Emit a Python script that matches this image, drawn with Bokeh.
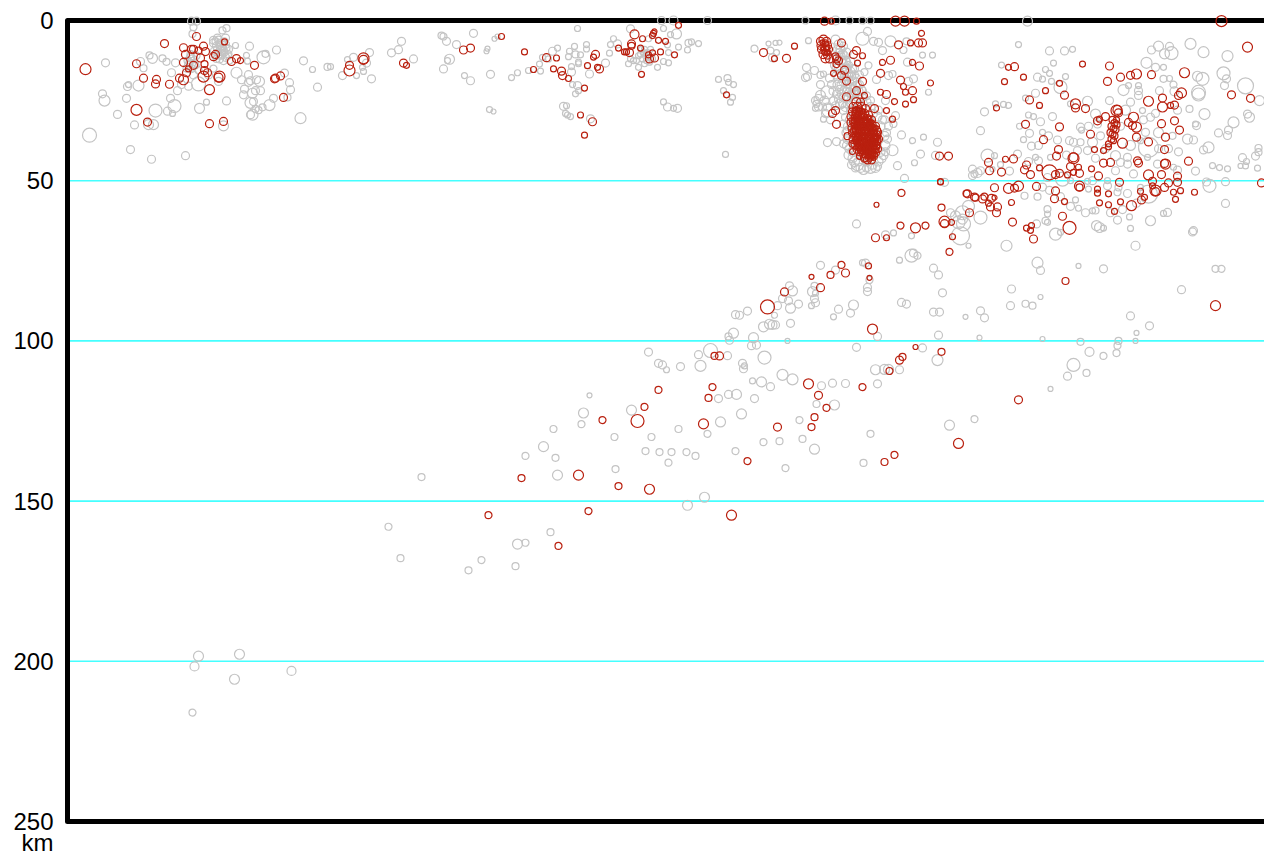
from bokeh.plotting import figure
from bokeh.models import ColumnDataSource, Range1d, FixedTicker
from bokeh.embed import file_html
from bokeh.resources import INLINE

depth_ticks = [0, 50, 100, 150, 200, 250]
guide_depths = [50, 100, 150, 200]
depth_unit = "km"
unit_tick = 257

# (distance along profile, depth km, magnitude class)
gray_west = [(105,13.2,8),(89,35.8,14),(102,22.9,8),(104,25,11),(126,24.3,8),(127,20.6,8),(128,20,6),(138,20.3,11),(143,14.9,7),(140,12.8,8),(149,10.9,7),(152,11.8,10),(162,11.8,7),(166,12.9,7),(175,13.2,8),(171,16.3,8),(177,21.9,8),(170,24.3,8),(174,26.7,13),(155,28.1,13),(167,28.3,8),(172,29,6),(117,29.3,8),(134,32.6,8),(148,32.5,10),(153,32.5,10),(130,40.3,8),(151,43.3,8),(185,42.2,8),(199,27.4,10),(206,25.5,6),(226,25.1,8),(198,19.8,14),(223,32.9,10),(191,0.2,8),(196,0.2,8),(193,2.1,7),(192,4.2,7),(222,3.1,7),(226,2.4,7),(213,6.2,8),(217,5.5,8),(225,5.5,8),(235,7.8,6),(249,8,8),(276,9.2,8),(263,11.5,13),(265,10.4,7),(246,10.9,6),(247,12.7,6),(303,12.6,8),(312,15.3,6),(327,14.5,7),(317,20.8,8),(284,16.4,8),(289,19.4,8),(290,21.6,8),(287,24,7),(273,24.3,8),(269,26.4,11),(262,27.1,7),(258,28,7),(255,27.6,7),(250,25.7,11),(253,25.3,8),(243,23.2,8),(244,21.4,8),(241,18.5,8),(236,16.3,11),(248,16.9,8),(250,18.8,8),(248,19.3,8),(256,18.5,8),(259,19,10),(255,21.9,8),(260,21.9,8),(252,22.7,10),(250,29.4,8),(252,29.4,11),(300,30.5,11)]
gray_west_cluster = [(213,7,8),(216,8,8),(219,7.5,7),(222,8.5,8),(225,7.5,8),(228,9,8),(214,9.5,8),(218,10,7),(221,10.5,8),(224,10,7),(227,11,8),(219,12,8),(223,12.5,8),(216,12,7),(229,12.5,7),(190,10.5,7),(192,12,8),(189,13,7),(194,13.5,8),(196,11,7),(191,15,8),(186,15,7),(198,15.5,7),(193,17,8),(208,17,8),(213,15,7),(218,19,8),(181,20,8),(188,20.5,8),(215,6.5,7),(218,6,7),(221,7,8),(224,6.5,7),(217,9,8),(220,9,8),(223,9.5,8),(226,8.5,7),(215,11,8),(220,11,7),(225,11.5,8),(228,10.5,7),(190,11.5,8),(193,11,8),(187,12.5,7),(191,13.5,8),(195,14,7),(188,14,8)]
gray_central = [(342,17.2,8),(330,14.4,6),(347,12.2,6),(353,11.5,8),(369,10,8),(366,13.3,8),(362,14.6,6),(363,15.9,6),(356,17.2,6),(371,18.2,8),(391,10.1,8),(398,9.1,8),(401,6.5,8),(413,12,8),(441,4.7,7),(443,5,7),(446,6.5,8),(456,7.5,8),(473,4,8),(449,12.1,10),(447,12.5,6),(443,15.1,8),(464,17.2,6),(470,18.8,8),(486,9.6,5),(487,8.8,5),(494,5.7,5),(497,5,5),(490,16.8,8),(511,17.8,6),(517,16.3,6),(528,15.6,6),(540,15.8,6),(539,13.6,6),(542,11.5,6),(552,9.6,8),(557,8.6,6),(548,12,6),(569,9.6,6),(574,8.1,6),(568,11.3,6),(575,10.6,7),(580,10.7,6),(586,7.5,6),(586,8.9,6),(578,13,6),(578,13.5,6),(571,14.4,6),(571,16.1,8),(589,16.7,8),(605,13.3,8),(609,10.2,6),(610,7.5,6),(613,5.7,6),(617,7.3,8),(630,2.6,8),(577,2.5,6),(572,20,6),(577,20.3,8),(578,21.9,6),(575,22.9,6),(563,26.8,8),(566,26.6,6),(565,29,6),(567,29.5,6),(570,30,6),(590,30.7,8),(489,27.8,6),(493,28.4,5),(663,25.4,6),(667,27,8),(673,27.4,6),(677,27.4,8),(661,0,8),(673,0,9),(707,0,8),(676,4.2,10),(670,4.4,6),(663,2.5,6),(648,5.7,6),(667,7.6,6),(678,8.3,6),(688,7,7),(691,6.7,6),(698,7.2,6),(687,9.2,6),(668,10,6),(668,13.2,6),(663,12.8,6),(657,14.6,6),(638,14.6,6),(628,13.5,6),(630,12,6),(641,9,6),(643,10,6),(645,11,6),(647,10,6),(642,12,6),(646,12.5,6),(650,9,6),(638,11,6),(652,12,6),(640,10.5,6),(644,9,6),(648,11.5,6),(636,12.5,6),(649,13,6),(644,13.5,6),(633,12.5,6),(718,18.4,6),(727,18,7),(723,21.9,6),(728,19.3,6),(725,41.8,6),(733,20,6),(732,24,6),(730,25.5,6)]
gray_band = [(835,6,9),(838,7.5,9),(840,9,9),(843,8,8),(846,10,9),(840,11,9),(845,12.5,9),(850,13,9),(846,15,9),(850,16,9),(854,15,8),(848,17.5,9),(852,19,9),(856,18,8),(859,17,8),(855,20.5,9),(850,21,9),(847,20,8),(853,23,9),(858,22,9),(861,21.5,8),(855,25,9),(851,26,9),(848,24,9),(844,22,9),(841,20,9),(838,18,9),(836,15,9),(834,14,8),(832,12,8),(845,27,9),(862,24,8),(866,25.5,9),(870,27,9),(877,30,9),(880,33,9),(884,36,9),(885,39,9),(883,42,9),(878,44,9),(870,46,11),(863,46.5,10),(857,45,12),(852,43,9),(849,40,9),(847,37,9),(852,34,9),(884,31,8),(888,33,8),(887,37,8),(880,41,9),(875,46,9),(866,44,9),(858,44,9),(855,46,8),(852,41,9),(868,43,8),(835,0,9),(805,0,7),(849,0,7),(862,0,7),(870,0,7),(862,5.7,13),(867,3.4,8),(873,6.5,8),(878,6.8,8),(890,6.5,11),(882,9.4,8),(906,6.5,7),(903,9.2,7),(907,13,8),(922,10.8,6),(932,10.8,6),(892,16.7,7),(888,17.2,8),(876,18.4,8),(864,16.1,7),(868,14,7),(913,18.2,8),(908,19,8),(928,22.4,6),(885,25,8),(895,29.7,8),(893,32.3,7),(901,35.7,8),(912,37.5,6),(923,36.4,6),(937,38,8),(920,41.7,8),(935,42.1,8),(892,40.5,11),(897,45.3,8),(914,44.4,6),(904,49.3,8),(944,50.5,8),(814,15.6,8),(807,17.5,8),(820,20,8),(823,16.7,6),(827,22.4,13),(818,24.5,9),(816,26,7),(815,27.4,6),(823,30.8,6),(827,38.1,8),(836,37.8,8),(843,38.5,8),(828,28.1,13),(827,27,8),(833,25,8),(835,26.6,8),(840,26,10),(843,28.1,8),(845,30.2,8),(843,32.3,8),(847,34.4,8),(754,8.8,7),(768,7.2,5),(775,7,5),(779,6.9,5),(770,9.4,7),(776,10,6),(772,11.6,8),(806,14.7,8),(805,17.8,8),(808,6.3,6),(820,17,7),(820,23.4,10),(815,25,8),(818,27,8)]
gray_band_dense = [(837,9,8),(839,10,8),(842,10.5,9),(844,11,8),(841,12.5,8),(843,13.5,9),(846,13,8),(848,14,8),(845,16,8),(848,16.5,9),(851,17.5,8),(849,19,8),(846,18.5,9),(844,17.5,8),(843,19,9),(840,16.5,8),(838,14.5,8),(836,17,8),(853,21,8),(851,23,8),(849,22.5,9),(846,22,8),(843,24,9),(841,23,8),(839,21.5,8),(837,20,9),(855,22.5,8),(857,24,8),(859,20,8),(857,20,8),(854,17,8),(852,15,8),(842,26,8),(847,26,9),(850,28,8),(853,25,8),(849,31,8),(847,33,8),(846,35,9),(846,39,8),(848,42,9),(851,45,8),(854,44,10),(860,46,9),(866,46,8),(872,45,9),(877,45.5,8),(881,43,9),(885,41,8),(886,35,8),(882,31,8),(878,28,8),(873,29,8),(870,25,8),(866,23.5,8),(862,22,8),(829,18,8),(831,20,8),(833,22,9),(836,23,8),(838,24.5,8),(824,25,9),(822,27,8),(825,29,8),(830,31,8)]
gray_east = [(1018,7.5,6),(1049,9.5,8),(1064,9.5,8),(1072,9,6),(1027,0.2,10),(1001,13.9,6),(1053,13.3,6),(1158,8,10),(1151,9.2,8),(1169,8.1,8),(1164,10.4,10),(1171,10.2,13),(1190,7.3,11),(1203,9.9,11),(1227,11.1,11),(1146,13.2,11),(1163,14.6,6),(1155,14.6,8),(1223,16.5,13),(1226,18.2,8),(1224,20.3,8),(1245,20.4,16),(1202,18.2,13),(1197,17.4,10),(1198,22.4,14),(1198,23.1,13),(1169,18.1,6),(1163,18.2,7),(1174,22.1,9),(1259,25,10),(1247,29.2,8),(1249,30.2,10),(1233,31.8,11),(1204,29.2,11),(1189,27.6,7),(1195,32.3,6),(1196,32.8,8),(1218,35.1,8),(1227,35.9,8),(1228,34.2,8),(1193,37.3,8),(1187,37,10),(1203,40.4,8),(1208,39.6,11),(1242,42.8,8),(1240,45.4,5),(1246,44,6),(1245,45.4,6),(1257,46.1,6),(1255,42.3,8),(1258,41.1,7),(1258,39.8,7),(1212,45.3,6),(1219,45.9,6),(1227,46.3,6),(1195,47,8),(1209,51.6,13),(1206,50.4,8),(1225,50.3,8),(1225,57.1,8),(1192,66,8),(1150,62.5,10),(1130,64.9,6),(1167,59.9,8),(1163,60.2,6),(1129,61.3,6),(1117,62.3,8),(1103,64.8,6),(1096,64,10),(1099,64.6,10),(1095,59.3,7),(1092,59.4,6),(1078,58.6,6),(1047,58.9,7),(1047,60.4,6),(1045,62.5,7),(1047,63,6),(1055,66.7,12),(1060,66.1,6),(1036,63.5,8),(1037,55,7),(1024,54.7,7),(980,61.5,13),(963,63.5,14),(962,62,10),(972,46.4,8),(974,47.9,7),(977,47.6,9),(980,46.9,8),(987,42.2,13),(994,42.2,6),(992,46.4,5),(1017,41.7,8),(1031,39.2,8),(1023,37.2,6),(1029,35.2,8),(1019,33,6),(980,34.4,8),(984,28.5,8),(995,26,6),(1003,26.2,6),(1008,26.5,6),(1025,24.2,6),(1035,22.7,8),(1037,17.7,8),(1042,18.3,6),(1045,15.3,6),(1049,16.5,6),(1051,19,6),(1060,20.8,13),(1065,17.5,6),(1070,26,6),(1087,25.2,10),(1080,33.3,8),(1081,34.2,6),(1040,31.6,8),(1028,29.5,6),(1033,30,6),(1042,34.9,6),(1057,37.3,8),(1069,37.5,8),(1073,38,8),(1077,40.6,8),(1087,40.6,8),(1080,38,7),(1038,43.8,8),(1050,42.7,6),(1062,49.5,14),(1070,50,6),(1095,29.2,10),(1097,32.3,8),(1109,25,8),(1123,21.7,11),(1130,25.5,8),(1138,20.3,6),(1138,21.9,8),(1138,23.4,8),(1128,20.3,6),(1159,21.9,8),(1173,20,7),(1142,28.1,6),(1150,30.2,8),(1140,37.5,6),(1148,39.6,20),(1145,34.9,8),(1127,42.7,8),(1120,44.3,8),(1115,42.2,10),(1127,44.8,8),(1133,47.9,8),(1115,46.9,8),(1147,42.7,6),(1157,44.8,8),(1177,46.7,8),(1173,45.8,6),(1127,54,8),(1117,53.6,7),(1118,52.1,7),(1140,52.1,6),(1148,54.2,18),(1107,51.6,8),(1107,50,6),(1087,50.2,6),(1088,52.6,6),(1047,49,8),(1035,42.7,6),(1177,28,8),(960,67.2,18),(958,63,13),(955,61,10),(962,60,14),(968,58,12),(950,60,8),(972,48.4,8),(1100,36,8),(1092,38,10),(1088,33,8),(1105,40,8),(1130,39,10),(1143,31,8),(1155,29,8),(1158,35,10),(1120,33,8),(1125,28,10),(1095,43,8),(1092,50,8),(1066,42,8),(1048,36,8),(1052,30,8),(1038,39,8),(1028,44,8),(1009,47,8),(1000,45,6),(1042,52,8),(1049,53,8),(1060,55,8),(1070,58,8),(1085,60,8),(1075,56,6),(1110,60,8),(1122,59,8),(1136,57,8),(1158,40,8),(1168,40,8),(1172,36,7),(1178,41,8)]
gray_slab = [(856,63.5,8),(885,66.9,8),(893,66.3,6),(911,67.2,6),(911,73.4,13),(913,72.6,8),(917,73.4,7),(899,74.8,6),(933,77.3,8),(938,79.4,8),(942,85,8),(939,91,8),(933,91,8),(938,98.2,8),(922,102.2,8),(937,106,11),(906,88.5,8),(901,88,8),(877,98.6,8),(865,75.7,8),(862,75.6,6),(869,81,7),(867,83.3,8),(867,84.6,8),(820,76.4,8),(835,77.9,8),(814,82.8,7),(789,82.8,8),(792,84.4,10),(812,84.6,10),(815,85.1,6),(814,86.8,8),(815,88.1,8),(811,89,6),(788,87.5,8),(782,86.8,8),(798,88.5,8),(790,89.8,10),(777,89,8),(774,92,6),(747,90.7,8),(739,92,8),(735,91.8,8),(790,94.5,8),(763,95.6,10),(769,94.8,10),(772,95,9),(775,95,8),(733,97.6,10),(728,98.6,7),(729,99.8,8),(753,99,10),(756,101.3,8),(751,101.5,8),(787,100,5),(853,88.8,10),(838,90.1,8),(850,91.3,8),(833,92.5,6),(856,102,8),(710,103,14),(698,104.3,8),(727,104.6,8),(700,107.8,11),(764,105.2,13),(648,103.5,8),(658,107,8),(662,107.5,8),(666,109,6),(680,108,8),(742,107,8),(744,107.8,6),(743,108.7,8),(782,110.6,11),(792,112,11),(752,112.5,6),(761,112.8,10),(770,114.3,8),(875,109,10),(884,108.9,10),(888,108.9,10),(899,109,8),(877,113.4,8),(845,113.3,8),(832,113.2,8),(821,114,8),(728,116.7,8),(736,116.7,10),(718,118,8),(754,118,8)]
gray_deep = [(589,117,5),(583,122.5,10),(581,126,7),(553,127.5,7),(631,121.6,10),(651,130,7),(614,130,7),(543,133,10),(525,135.9,7),(555,136.5,7),(557,141.9,10),(615,140,7),(645,134.4,7),(659,134.7,7),(671,134.7,7),(668,138,7),(686,134.7,7),(695,135.9,7),(687,151.3,10),(704,148.8,10),(678,127.5,7),(707,129,7),(720,125.3,10),(741,122.8,10),(735,134.4,7),(763,131.6,7),(779,131.3,7),(785,139.7,7),(802,130.6,7),(799,124.7,7),(814,133.8,10),(863,138.1,7),(870,129,7),(834,120,10),(816,119.7,7),(949,126.3,10),(974,124.4,7),(388,158,7),(400,167.8,7),(421,142.5,7),(468,171.6,7),(481,168.4,7),(515,170.3,7),(517,163.4,10),(525,163,7),(550,159.7,7),(194,201.6,9),(198,198.4,10),(239,197.8,10),(234,205.6,10),(291,203,9),(192,216,7),(1073,107.5,13),(1067,111,8),(1080,100.3,7),(1086,110,7),(1050,115,5),(1089,103.4,9),(1103,104.7,7),(1118,100,7),(1117,101.5,7),(1116,103.8,7),(1135,100,5),(1130,92.2,8),(1136,97.5,5),(1149,95.3,8),(1011,83.8,8),(1040,78,8),(1037,75.6,11),(1010,89,8),(1025,88.4,7),(1032,89,7),(1040,86.3,5),(1042,99.4,5),(1078,76.6,5),(1103,77.5,8),(1181,84,8),(1215,77.5,7),(1221,77.5,7),(1135,70.3,9),(1193,65.6,8),(980,90.6,8),(984,92.8,8),(965,92.5,5),(979,99,5),(1006,70.3,11),(968,70.3,5)]

red_west = [(85,15.2,11),(136,13.5,8),(164,7.2,8),(143,18,8),(156,18.4,8),(155,19.8,8),(169,19.9,8),(179,18,8),(183,18.5,10),(183,8.5,8),(185,10.6,8),(183,13.1,8),(191,9,8),(193,9,8),(198,9.4,7),(203,8,8),(205,9.7,8),(200,11.7,8),(213,11.3,8),(215,10.6,8),(204,13.6,7),(193,14,8),(188,15.1,6),(186,16.3,8),(204,15.6,8),(207,16.3,8),(203,17.5,11),(219,17.5,11),(218,17.8,9),(209,21.6,10),(196,5,8),(224,6.7,6),(231,12.8,8),(236,11.9,8),(240,12.5,6),(254,14,8),(274,18.2,8),(275,18,8),(280,17.3,8),(283,24,8),(136,27.9,11),(147,31.7,8),(209,32.2,8),(223,31.5,8)]
red_central = [(349,14,8),(349,15.6,11),(363,11.8,11),(363,12.3,9),(403,13.3,8),(406,14,6),(463,9.2,8),(470,8.6,8),(501,5,6),(524,9.8,6),(533,15.3,6),(546,11.6,8),(556,11.7,6),(553,15.1,6),(561,15.8,8),(562,17.2,8),(568,18.1,6),(584,21.1,6),(587,14.1,6),(593,11.4,6),(595,10.6,8),(597,14.6,6),(599,15.1,8),(580,29.5,6),(592,31.6,8),(584,35.8,6),(618,8.6,6),(624,9.8,6),(626,9.8,6),(629,10,8),(631,7.3,8),(631,7.9,7),(634,4.3,9),(640,8.6,6),(642,5.7,6),(641,16.8,6),(648,10.7,6),(649,12,8),(652,10.1,6),(654,11.7,8),(652,4.7,6),(653,4,6),(654,3.4,5),(658,6.2,6),(665,6.5,6),(660,9.8,6),(674,10.7,6),(678,1.5,6),(726,23.2,6)]
red_band = [(763,10,8),(774,11.9,6),(786,11.8,8),(794,8,6),(824,0.2,8),(831,0.2,6),(895,0.2,10),(904,0.2,10),(916,0.2,6),(921,4,6),(898,7.6,8),(910,7,6),(918,7,8),(922,7,8),(841,7,8),(856,9.4,8),(853,10.6,8),(862,11,6),(857,13.3,6),(882,13.1,6),(890,12.4,8),(912,13.1,6),(919,14.2,8),(880,16.5,8),(900,18.6,8),(903,20.6,6),(905,22.4,6),(912,21.9,8),(930,19.5,6),(913,24.7,6),(905,26.1,6),(880,22.4,6),(886,23.1,8),(894,25.3,6),(886,28.1,6),(892,30.8,6),(874,27.5,8),(846,23.8,8),(856,21.9,8),(862,19,8),(864,23.4,6),(844,15.5,8),(841,17.2,8),(846,18.9,8),(833,16.5,6),(832,29,8),(835,28.1,8),(836,32.4,8),(847,36.1,7),(852,38.5,7),(852,40.9,6),(859,42.4,6),(939,42.3,8),(948,42.3,8),(940,50.4,6)]
red_band_top = [(820,6.5,8),(823,6,9),(826,6.5,8),(821,7.8,9),(824,8,9),(827,7.8,8),(821,9,8),(825,9.5,9),(828,9,8),(823,10.5,9),(827,10.8,8),(825,11.8,9),(829,12,8),(836,12,8),(838,12.6,8),(836,13.6,7),(835,11.2,7),(822,6.8,5),(825,7,6),(823,8.8,5),(826,8.6,6),(824,10,5),(827,10,6)]
red_blob = [(856,25.5,9),(860,25.5,8),(853,27,9),(857,27,9),(861,27,9),(865,27.5,8),(852,28.5,8),(856,28.5,9),(860,28.8,9),(864,29,8),(868,29.5,8),(851,30,9),(855,30.2,9),(859,30.5,9),(863,30.5,9),(867,30.8,9),(871,31,8),(851,31.8,9),(855,32,9),(859,32.2,9),(863,32,9),(867,32.5,9),(871,32.5,9),(875,33,8),(852,33.5,9),(856,33.8,9),(860,34,9),(864,33.8,9),(868,34,9),(872,34.2,9),(876,34.2,8),(852,35,8),(856,35.5,9),(860,35.5,9),(864,35.5,9),(868,35.8,9),(872,35.8,9),(876,35.8,9),(853,37,9),(857,37,9),(861,37.2,9),(865,37,9),(869,37.2,9),(873,37.2,9),(876,37.5,9),(855,38.5,9),(859,38.8,9),(863,38.5,9),(867,38.8,9),(871,38.8,9),(875,38.8,9),(857,40,9),(861,40,9),(865,40,9),(869,40.2,9),(873,40,9),(877,40,8),(859,41,8),(863,41.3,9),(867,41.3,9),(871,41.3,9),(875,41.2,8),(865,42.6,9),(869,42.6,9),(873,42.4,8),(867,43.5,8),(871,43.5,8),(857,30,8),(861,33,8),(865,34.5,8),(869,36.5,8),(873,38,8),(866,39.5,8),(858,36.5,8),(862,38,8),(854,34.5,8),(870,33,8),(866,31.5,8),(858,31.5,8),(862,29.5,8),(874,36.5,8),(860,39,8),(868,41,8),(864,43,8),(856,37.5,8),(853,31.5,8),(878,37,8),(877,34.8,8)]
red_blob_inner = [(855,29,7),(858,29.5,6),(861,30,7),(864,31,6),(857,31,7),(860,31.5,6),(863,31.5,7),(866,32,6),(869,32,7),(854,32.8,7),(857,33,6),(860,33,7),(863,33,6),(866,33.2,7),(869,33.5,6),(872,33.5,7),(855,34.5,6),(858,34.7,7),(861,34.7,6),(864,34.7,7),(867,34.9,6),(870,34.9,7),(873,35,6),(855,36.5,7),(858,36,6),(861,36.3,7),(864,36.3,6),(867,36.5,7),(870,36.5,6),(873,36.4,7),(876,36.5,6),(856,38,6),(859,37.8,7),(862,37.7,6),(865,38,7),(868,38,6),(871,38,7),(874,38,6),(877,38,6),(858,39.5,7),(861,39.3,6),(864,39.3,7),(867,39.5,6),(870,39.5,7),(873,39.3,6),(876,39,7),(860,40.7,6),(863,40.5,7),(866,40.7,6),(869,40.8,7),(872,40.7,6),(875,40.3,7),(865,41.8,7),(868,42,6),(871,42,7),(874,41.8,6)]
red_blob_core = [(854,28,5),(857,28,4),(860,27.8,5),(863,28.2,4),(853,30,4),(856,30,5),(859,29.8,4),(862,30.2,5),(865,30,4),(868,30.6,5),(853,31.5,5),(856,31.5,4),(859,31.5,5),(862,31.5,4),(865,31.7,5),(868,31.7,4),(871,31.8,5),(854,33,4),(857,32.8,5),(860,32.8,4),(863,32.8,5),(866,32.8,4),(869,32.9,5),(872,33,4),(875,33.5,5),(854,34,5),(857,34.2,4),(860,34.3,5),(863,34.3,4),(866,34.3,5),(869,34.5,4),(872,34.6,5),(875,34.7,4),(854,35.8,4),(857,35.5,5),(860,35.6,4),(863,35.8,5),(866,35.8,4),(869,35.7,5),(872,36,4),(875,36,5),(878,36,4),(855,37,5),(858,37.2,4),(861,37,5),(864,37.3,4),(867,37.2,5),(870,37.3,4),(873,37.4,5),(876,37.5,4),(857,38.6,4),(860,38.5,5),(863,38.7,4),(866,38.6,5),(869,38.7,4),(872,38.7,5),(875,38.5,4),(859,40,5),(862,40,4),(865,40.2,5),(868,40,4),(871,40.2,5),(874,39.8,4),(877,39.5,5),(862,41.3,4),(865,41.2,5),(868,41.4,4),(871,41.4,5),(874,41,4),(867,42.6,4),(870,42.8,5),(873,42.6,4)]
red_east = [(1008,14.6,6),(1014,14.4,8),(1004,19.1,6),(1023,17.7,6),(1082,13.6,6),(1109,14.2,8),(1107,19,8),(1120,17.7,8),(1130,17.1,8),(1136,16.7,10),(1151,16.9,8),(1184,16.3,10),(1221,0.2,11),(1247,8.3,10),(1231,23.2,8),(1250,24.3,8),(1059,19.6,6),(1064,23.3,8),(1045,21.9,6),(1029,24.8,8),(1039,26.5,6),(996,27.3,6),(1075,26,10),(1075,27.3,8),(1085,27.5,8),(1025,32.4,8),(1059,33.2,8),(1043,37.2,8),(1090,35.5,8),(1097,31.3,8),(1099,30.8,6),(1105,30,8),(1116,28.1,11),(1118,28.8,8),(1117,27.9,9),(1133,30.2,10),(1128,31.8,8),(1132,32.8,8),(1136,33.3,10),(1148,25.2,10),(1162,24.2,8),(1162,27,10),(1170,26.5,6),(1174,26.4,8),(1178,23.4,8),(1181,22.6,10),(1174,31.3,8),(1161,32.2,8),(1179,34.2,8),(1165,36.4,8),(1148,37.9,8),(1136,36.4,8),(1122,38.3,10),(1164,40.3,8),(1188,43.9,8),(1164,44.6,8),(1165,44.8,10),(1137,43.8,8),(1138,44.5,8),(1110,44.3,8),(1103,44.5,8),(1103,40.6,6),(1108,38.5,6),(1108,39.4,6),(1094,40.3,6),(1058,40.3,8),(1056,42.3,8),(1073,43,11),(1073,42.7,9),(1005,43.3,6),(1013,43.2,8),(988,44.3,8),(989,46.9,8),(1001,47.3,8),(1026,45.1,8),(1024,46.6,8),(1030,48.1,8),(1039,46,6),(1049,47.4,15),(1055,48.1,8),(1059,47.7,8),(1067,48.2,6),(1070,45.6,8),(1078,45.8,6),(1073,47.4,6),(1079,47.7,8),(1091,46.3,6),(1098,48.5,8),(1119,50.5,8),(1148,48.2,10),(1161,48.1,8),(1177,48.6,8),(1177,50.5,8),(1168,50.7,8),(1164,52.1,8),(1152,50.2,8),(1152,51.6,6),(1155,53.1,11),(1155,53.4,8),(1173,53.6,6),(1180,53.1,6),(1194,53.6,6),(1175,55.8,6),(1261,50.7,8),(1140,53.3,6),(1144,55.2,6),(1141,56,8),(1131,57.8,10),(1120,56.6,6),(1114,59.6,6),(1108,54.1,6),(1108,57.5,6),(1099,56.9,6),(1097,52.6,6),(1097,53.9,6),(1079,51.7,10),(1079,52.1,7),(1055,53.2,8),(1054,55.6,8),(1064,56.5,6),(1062,61.1,8),(1069,64.7,13),(1036,51.8,8),(1018,51.7,10),(1014,52.3,8),(1008,52.4,10),(994,52.2,8),(967,54.1,8),(974,55.1,8),(982,55.7,8),(991,55.5,8),(994,55.3,5),(988,57,6),(990,58.2,8),(997,58.2,8),(996,60,8),(969,60,8),(1011,56.8,6),(1012,62.9,8),(1031,64,6),(1026,64.8,6),(1030,65.5,6),(1033,68.2,8),(1112,31,7),(1114,32,7),(1116,32.5,7),(1111,33,7),(1113,33.8,7),(1115,34,7),(1110,35,7),(1112,35.5,7),(1114,36,7),(1111,37,7),(1113,37.5,6),(1116,31,6)]
red_deep = [(1065,81.3,7),(1215,89,10),(1018,118.4,8),(958,132,10),(941,103.4,7),(915,101.9,5),(899,106,8),(902,105,7),(889,109.4,7),(862,114.4,7),(872,96.3,10),(869,80.3,5),(868,76.6,6),(845,78.8,8),(830,79.4,7),(841,76.3,7),(820,83.4,8),(811,80,5),(784,84.7,8),(767,89.4,14),(714,104.7,7),(719,104.7,8),(808,113.4,10),(818,117,8),(826,120.9,7),(814,123.8,7),(811,126.9,7),(777,126.9,8),(747,137.5,7),(712,114.4,7),(708,117.8,7),(703,125.9,10),(658,115.3,7),(644,120.6,7),(637,125,13),(602,124.7,7),(578,141.9,10),(521,142.8,7),(618,145.3,7),(649,146.3,10),(588,153.1,7),(731,154.4,10),(488,154.4,7),(558,164,7),(884,137.8,7),(894,135.6,7),(875,67.8,8),(886,67.8,6),(900,64,7),(915,64.7,10),(925,64,7),(876,57.5,5),(901,53.8,7),(949,72.2,7),(952,67.5,6),(944,62.8,11),(944,63.4,8),(951,63,6),(941,58.4,7),(940,50.3,6),(966,54,7),(975,55.3,7),(984,55,7)]

GRAY = gray_west + gray_west_cluster + gray_central + gray_band + gray_band_dense + gray_east + gray_slab + gray_deep
RED = red_west + red_central + red_band + red_band_top + red_blob + red_blob_inner + red_blob_core + red_east + red_deep

# geometry
PX_PER_KM = 801 / 250
H, W = 855, 1264
TOP = 20  # canvas px above depth 0
PROFILE_START = 67
FRAME_LEFT = 60
y_top = -TOP / PX_PER_KM
y_bottom = (H - TOP) / PX_PER_KM

p = figure(width=W, height=H, output_backend="svg", toolbar_location=None,
           x_range=Range1d(FRAME_LEFT, W),
           y_range=Range1d(y_bottom, y_top),
           min_border_left=FRAME_LEFT, min_border_right=0, min_border_top=0, min_border_bottom=0,
           x_axis_location=None, y_axis_location="left", background_fill_color="white",
           border_fill_color="white")
p.outline_line_color = None
p.grid.visible = False

a = p.yaxis[0]
a.ticker = FixedTicker(ticks=depth_ticks + [unit_tick])
a.major_label_overrides = {unit_tick: depth_unit}
a.axis_line_color = None
a.major_tick_line_color = None
a.minor_tick_line_color = None
a.major_tick_in = 0
a.major_tick_out = 0
a.major_label_standoff = 7
a.major_label_text_font = "Liberation Sans"
a.major_label_text_font_size = "24px"
a.major_label_text_color = "black"

for d in guide_depths:
    p.line([PROFILE_START, W], [d, d], line_color="#44FFFF", line_width=1.6)

top, bottom = depth_ticks[0], depth_ticks[-1]
p.line([W, PROFILE_START, PROFILE_START, W], [top, top, bottom, bottom],
       line_color="black", line_width=5, line_join="round")

def draw(rows, color):
    src = ColumnDataSource(dict(x=[r[0] for r in rows], y=[r[1] for r in rows], s=[r[2] for r in rows]))
    p.scatter("x", "y", size="s", source=src, marker="circle", fill_color=None,
              line_color=color, line_width=1.2)

draw(GRAY, "#C4C4C4")
draw(RED, "#B9200F")

open("out.html", "w").write(file_html(p, INLINE))
